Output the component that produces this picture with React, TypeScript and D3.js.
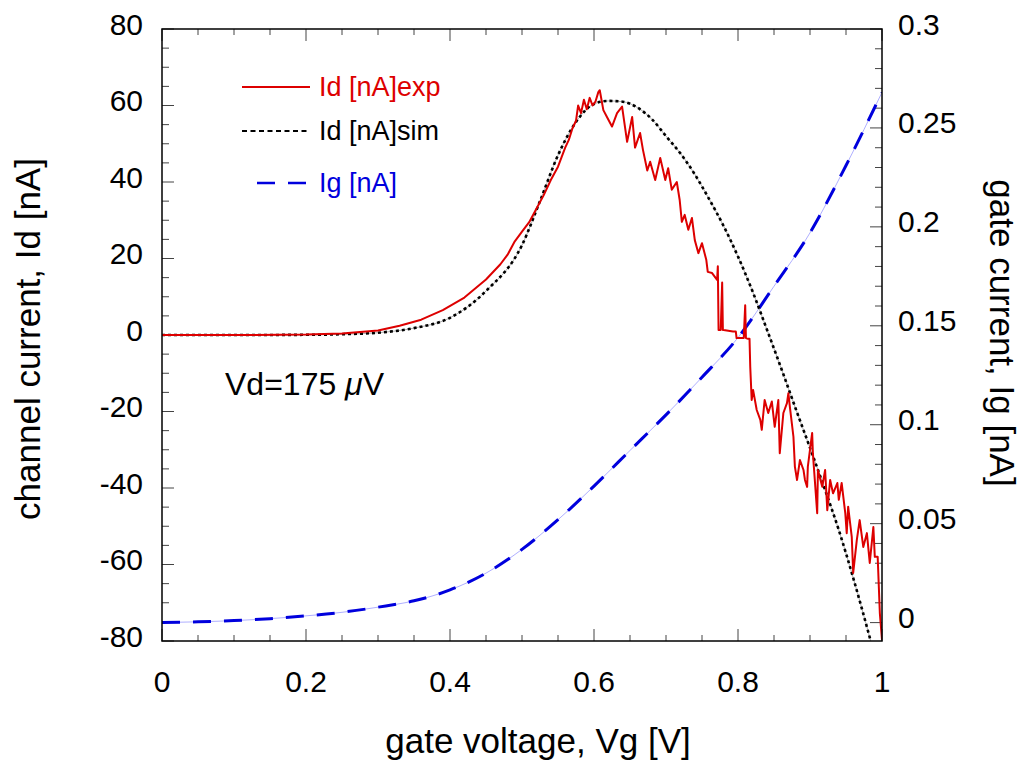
import React from "react";
import * as d3 from "d3";

// ---------- data ----------
const simVg = [0, 0.1, 0.2, 0.25, 0.3, 0.35, 0.4, 0.45, 0.5, 0.525, 0.55, 0.575, 0.6, 0.62, 0.64, 0.66, 0.68, 0.7, 0.72, 0.74, 0.76, 0.78, 0.8, 0.82, 0.84, 0.86, 0.88, 0.9, 0.92, 0.94, 0.96, 0.98, 0.99];
const simId = [0, 0, 0.05, 0.2, 0.6, 1.8, 4.5, 11.5, 23.5, 35, 47, 55.7, 60.4, 61.2, 61.0, 59.5, 56.5, 52, 47.5, 42, 35.5, 28.5, 20.5, 11.5, 1.5, -8.7, -19.2, -29.5, -40, -51, -63.5, -77, -84];

const expVg = [0, 0.1, 0.2, 0.25, 0.3, 0.33, 0.36, 0.39, 0.42, 0.45, 0.47, 0.48, 0.49, 0.5, 0.51, 0.52, 0.53, 0.54, 0.55, 0.555, 0.56, 0.565, 0.57, 0.575, 0.578, 0.582, 0.586, 0.59, 0.594, 0.598, 0.602, 0.606,
  0.608, 0.613, 0.618, 0.625, 0.632, 0.639, 0.646, 0.653, 0.657, 0.664, 0.668, 0.674, 0.678, 0.685, 0.692, 0.699, 0.703, 0.708, 0.715, 0.719, 0.722, 0.726, 0.731, 0.736, 0.74, 0.745, 0.75, 0.756, 0.758, 0.764, 0.771, 0.772, 0.773, 0.776, 0.778, 0.779, 0.78, 0.793, 0.797, 0.798, 0.808, 0.81, 0.811, 0.814,
  0.816, 0.817, 0.819, 0.821, 0.826, 0.831, 0.833, 0.837, 0.842, 0.847, 0.851, 0.856, 0.858, 0.863, 0.868, 0.87, 0.872, 0.877, 0.879, 0.882, 0.886, 0.891, 0.893, 0.896, 0.897, 0.903, 0.904, 0.91, 0.911, 0.917, 0.921, 0.924, 0.928, 0.932, 0.938, 0.94, 0.944, 0.949, 0.951, 0.953, 0.958, 0.96, 0.965, 0.969, 0.974, 0.979, 0.983, 0.988, 0.99, 0.994, 0.997, 1.0];
const expId = [0, 0, 0.1, 0.4, 1.2, 2.4, 4, 6.5, 9.8, 14.5, 18.5, 21, 24.5, 27, 29.5, 33, 36.5, 40.5, 44, 46.5, 49, 51, 54, 56, 60, 58, 61.5, 59, 62, 60, 61, 63.5,
  64, 58.8, 57, 54.5, 58, 59.7, 50.5, 57, 49, 52.8, 48.4, 43, 45.3, 40.5, 46.3, 40.5, 43.6, 38, 40, 35.3, 29.6, 31.4, 27.5, 30.6, 24.8, 21.4, 24, 19.6, 16.5, 16.2, 14.4, 18, 1.3, 1.3, 13.7, 1.3, 1.3, 0.9, 0.9, -0.8, -0.8, 7.8, -0.8, -1.0,
  -1.0, -8.3, -17, -14.4, -19.6, -22.2, -24.8, -17, -20.4, -17.4, -24, -17, -30.9, -20.4, -17.8, -15.2, -18.7, -26.6, -34.4, -37.9, -32.7, -35.3, -37.9, -39.7, -34.4, -25.6, -30.9, -46.6, -35.3, -39.7, -35.3, -45.8, -37.9, -41.4, -38.7, -43.1, -38.7, -46.6, -51.8, -44.9, -52.8, -62.2, -53.6, -48.4, -55.4, -51.8, -59.6, -50.2, -58, -58, -72.7, -79.7];

const igVg = [0, 0.05, 0.1, 0.15, 0.2, 0.25, 0.3, 0.35, 0.4, 0.45, 0.5, 0.55, 0.6, 0.65, 0.7, 0.75, 0.8, 0.85, 0.9, 0.95, 1.0];
const igVal = [0.0, 0.0004, 0.001, 0.002, 0.0034, 0.0052, 0.0078, 0.011, 0.0165, 0.025, 0.037, 0.052, 0.069, 0.087, 0.105, 0.124, 0.144, 0.17, 0.197, 0.231, 0.268];

const xTicks = [0, 0.2, 0.4, 0.6, 0.8, 1];
const xTickLabels = ["0", "0.2", "0.4", "0.6", "0.8", "1"];
const yLeftTicks = [80, 60, 40, 20, 0, -20, -40, -60, -80];
const yRightTicks = [0, 0.05, 0.1, 0.15, 0.2, 0.25, 0.3];
const yRightLabels = ["0", "0.05", "0.1", "0.15", "0.2", "0.25", "0.3"];

const legendLabels = ["Id [nA]exp", "Id [nA]sim", "Ig [nA]"];

// ---------- layout ----------
const W = 1025, H = 765;
const L = 162, R = 882, T = 29, B = 641;
const RED = "#dd0000", BLUE = "#0000dd";
const FONT = "'Liberation Sans', Arial, Helvetica, sans-serif";

export default function App() {
  const x = d3.scaleLinear().domain([0, 1]).range([L, R]);
  const yL = d3.scaleLinear().domain([-80, 80]).range([B, T]);
  const yR = d3.scaleLinear().domain([-0.0093, 0.3]).range([B, T]);

  const simLine = d3.line<number>().x((d, i) => x(simVg[i])).y((d) => yL(d)).curve(d3.curveMonotoneX);
  const expLine = d3.line<number>().x((d, i) => x(expVg[i])).y((d) => yL(d));
  const igLine = d3.line<number>().x((d, i) => x(igVg[i])).y((d) => yR(d)).curve(d3.curveMonotoneX);

  const xMinor = d3.range(0, 1.0001, 0.05);
  const yLMinor = d3.range(-80, 80.001, 5);
  const yRMinor = d3.range(0, 0.3001, 0.01);

  return (
    <svg width={W} height={H} style={{ position: "absolute", left: 0, top: 0, background: "#fff" }} fontFamily={FONT}>
      <defs>
        <clipPath id="plot">
          <rect x={L} y={T} width={R - L} height={B - T} />
        </clipPath>
      </defs>
      <rect x={0} y={0} width={W} height={H} fill="#fff" />

      {/* ticks */}
      <g stroke="#444" strokeWidth={1}>
        {xMinor.map((v, i) => {
          const major = Math.abs(v / 0.2 - Math.round(v / 0.2)) < 1e-6;
          const len = major ? 12 : 6;
          return (
            <g key={"xt" + i}>
              <line x1={x(v)} x2={x(v)} y1={B} y2={B - len} />
              <line x1={x(v)} x2={x(v)} y1={T} y2={T + len} />
            </g>
          );
        })}
        {yLMinor.map((v, i) => {
          const major = Math.abs(v % 20) < 1e-6;
          const len = major ? 12 : 7;
          return <line key={"yl" + i} x1={L} x2={L + len} y1={yL(v)} y2={yL(v)} />;
        })}
        {yRMinor.map((v, i) => {
          const major = Math.abs(v / 0.05 - Math.round(v / 0.05)) < 1e-6;
          const len = major ? 12 : 7;
          return <line key={"yr" + i} x1={R} x2={R - len} y1={yR(v)} y2={yR(v)} />;
        })}
      </g>

      {/* series */}
      <g clipPath="url(#plot)" fill="none">
        <path d={igLine(igVal) || ""} stroke="#9a9aff" strokeWidth={0.8} />
        <path d={igLine(igVal) || ""} stroke={BLUE} strokeWidth={3} strokeDasharray="18,13" />
        <path d={simLine(simId) || ""} stroke="#999" strokeWidth={0.8} />
        <path d={simLine(simId) || ""} stroke="#000" strokeWidth={2.6} strokeDasharray="3,3" />
        <path d={expLine(expId) || ""} stroke={RED} strokeWidth={2} strokeLinejoin="round" />
      </g>

      {/* frame */}
      <rect x={L} y={T} width={R - L} height={B - T} fill="none" stroke="#000" strokeWidth={1.5} />

      {/* tick labels */}
      <g fontSize={30} fill="#000">
        {xTicks.map((v, i) => (
          <text key={"xl" + i} x={x(v)} y={692} textAnchor="middle">{xTickLabels[i]}</text>
        ))}
        {yLeftTicks.map((v, i) => (
          <text key={"yll" + i} x={143} y={yL(v) + 5.5} textAnchor="end">{String(v)}</text>
        ))}
        {yRightTicks.map((v, i) => (
          <text key={"yrl" + i} x={898} y={yR(v) + 5.5} textAnchor="start">{yRightLabels[i]}</text>
        ))}
      </g>

      {/* axis titles */}
      <g fontSize={35} fill="#000">
        <text x={538} y={753} textAnchor="middle">gate voltage, Vg [V]</text>
        <text transform={`translate(40,339) rotate(-90)`} textAnchor="middle">channel current, Id [nA]</text>
        <text transform={`translate(990,333) rotate(90)`} textAnchor="middle">gate current, Ig [nA]</text>
      </g>

      {/* legend */}
      <g fontSize={27}>
        <line x1={242} x2={310} y1={87} y2={87} stroke={RED} strokeWidth={2} />
        <text x={319} y={96} fill={RED}>{legendLabels[0]}</text>
        <line x1={242} x2={308} y1={131} y2={131} stroke="#000" strokeWidth={2} strokeDasharray="5,3.5" />
        <text x={319} y={140} fill="#000">{legendLabels[1]}</text>
        <line x1={257} x2={306} y1={183} y2={183} stroke={BLUE} strokeWidth={2.5} strokeDasharray="18,13" />
        <text x={319} y={192} fill={BLUE}>{legendLabels[2]}</text>
      </g>

      {/* annotation */}
      <text x={225} y={395} fontSize={32} fill="#000">
        Vd=175 <tspan fontStyle="italic">μ</tspan>V
      </text>
    </svg>
  );
}
